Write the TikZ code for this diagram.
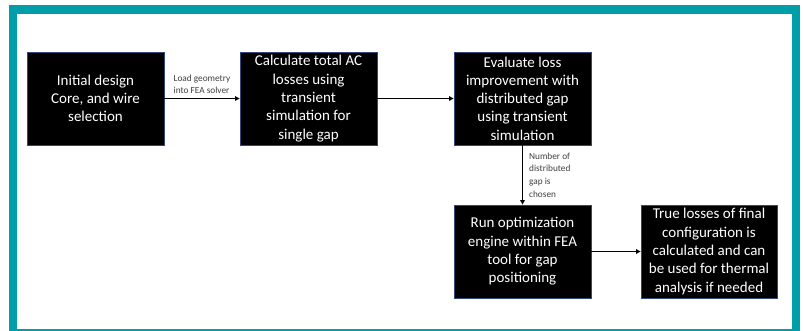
\documentclass[tikz,border=0pt]{standalone}
\usepackage{fontspec}
\setmainfont{Carlito}
\usetikzlibrary{arrows.meta}
\definecolor{teal1}{RGB}{0,158,168}
\definecolor{boxline}{RGB}{47,74,122}
\definecolor{lblgray}{RGB}{64,64,64}
\tikzset{
  procbox/.style={draw=boxline, line width=0.8pt, fill=black, text=white,
    minimum width=137pt, minimum height=93pt, inner sep=0pt, align=center,
    font=\fontsize{15}{18.3}\selectfont},
  conn/.style={line width=1.3pt, -{Triangle[length=4.5pt,width=4.5pt]}},
  lbl/.style={text=lblgray, font=\fontsize{9.3}{12.7}\selectfont, inner sep=0pt}
}
\begin{document}
\begin{tikzpicture}[x=1pt,y=-1pt]
\useasboundingbox (0,0) rectangle (804,330);
\fill[white] (0,0) rectangle (804,330);
\fill[teal1] (9,5) rectangle (800,335);
\fill[white] (17,14) rectangle (792,329);
\node[procbox] (b1) at (95.5,98.5) {Initial design\\Core, and wire\\selection};
\node[procbox] (b2) at (308.5,98.5) {Calculate total AC\\losses using\\transient\\simulation for\\single gap};
\node[procbox] (b3) at (522.5,98.5) {Evaluate loss\\improvement with\\distributed gap\\using transient\\simulation};
\node[procbox] (b4) at (522.5,251.5) {Run optimization\\engine within FEA\\tool for gap\\positioning};
\node[procbox, minimum width=136pt] (b5) at (709,251.5) {True losses of final\\configuration is\\calculated and can\\be used for thermal\\analysis if needed};
\draw[conn] (b1) -- node[lbl, above=4pt, align=left] {Load geometry\\into FEA solver} (b2);
\draw[conn] (b2) -- (b3);
\draw[conn] (b3) -- node[lbl, right=6pt, align=left] {Number of\\distributed\\gap is\\chosen} (b4);
\draw[conn] (b4) -- (b5);
\end{tikzpicture}
\end{document}
